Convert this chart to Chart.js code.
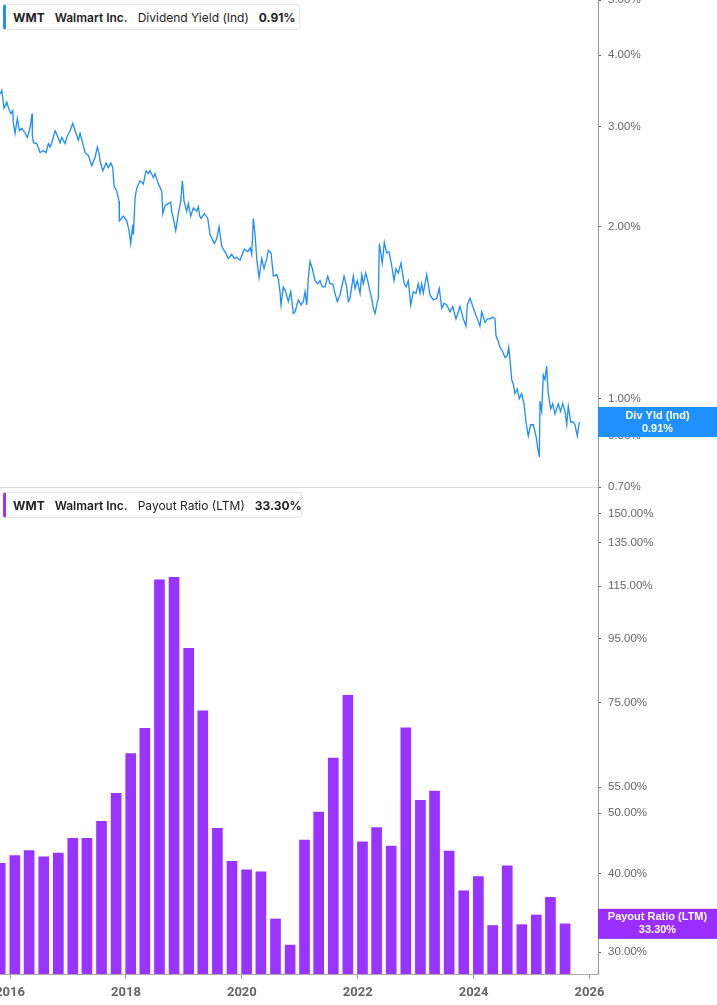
<!DOCTYPE html>
<html>
<head>
<meta charset="utf-8">
<script src="https://cdn.jsdelivr.net/npm/chart.js@4.4.1/dist/chart.umd.min.js"></script>
<style>
  html, body { margin: 0; padding: 0; background: #fff; }
  #wrap { position: relative; width: 717px; height: 1005px; overflow: hidden; background: #fff; }
  #topBox { position: absolute; left: 0; top: 0; width: 717px; height: 500px; }
  #botBox { position: absolute; left: 0; top: 488px; width: 717px; height: 517px; }
  .legend {
    position: absolute; left: 3px; width: 297px; height: 26px; box-sizing: border-box;
    border: 1px solid #e6e6e6; border-radius: 3px; background: #fff;
    display: flex; align-items: center; padding-left: 7px;
    font-family: Inter, "Noto Sans", sans-serif; font-size: 12px; color: #222; z-index: 5;
  }
  .legend span { margin-right: 10px; white-space: nowrap; }
  .legend .b { font-weight: 700; }
  .legend .m { font-weight: 600; }
</style>
</head>
<body>
<div id="wrap">
  <div id="topBox"><canvas id="yieldChart"></canvas></div>
  <div id="botBox"><canvas id="payoutChart"></canvas></div>
  <div class="legend" style="top:4px; border-left:3px solid #1e90ff;">
    <span class="b">WMT</span><span class="m">Walmart Inc.</span><span>Dividend Yield (Ind)</span><span class="b" id="yieldLast"></span>
  </div>
  <div class="legend" style="top:492px; width:299px; border-left:3px solid #9933ff;">
    <span class="b">WMT</span><span class="m">Walmart Inc.</span><span>Payout Ratio (LTM)</span><span class="b" id="payoutLast"></span>
  </div>
</div>
<script>
// 배당수익률 (연도 소수, %)
const divYears = [
  2015.83, 2015.857, 2015.874, 2015.896, 2015.943, 2015.971, 2016.012, 2016.047, 2016.057, 2016.086,
  2016.126, 2016.160, 2016.202, 2016.259, 2016.299, 2016.345, 2016.380, 2016.385, 2016.402, 2016.461,
  2016.518, 2016.575, 2016.621, 2016.661, 2016.690, 2016.720, 2016.777, 2016.833, 2016.863, 2016.892,
  2016.949, 2016.978, 2017.035, 2017.082, 2017.122, 2017.179, 2017.208, 2017.255, 2017.294, 2017.351,
  2017.410, 2017.467, 2017.506, 2017.536, 2017.553, 2017.600, 2017.657, 2017.696, 2017.738, 2017.772,
  2017.795, 2017.841, 2017.881, 2017.886, 2017.955, 2018.014, 2018.054, 2018.083, 2018.117, 2018.128,
  2018.157, 2018.186, 2018.243, 2018.300, 2018.347, 2018.387, 2018.416, 2018.473, 2018.502, 2018.559,
  2018.618, 2018.635, 2018.675, 2018.732, 2018.773, 2018.790, 2018.818, 2018.859, 2018.904, 2018.946,
  2018.973, 2019.003, 2019.049, 2019.077, 2019.118, 2019.163, 2019.222, 2019.249, 2019.274, 2019.296,
  2019.353, 2019.412, 2019.451, 2019.525, 2019.567, 2019.607, 2019.653, 2019.722, 2019.767, 2019.826,
  2019.871, 2019.912, 2019.969, 2020.043, 2020.102, 2020.142, 2020.171, 2020.198, 2020.228, 2020.257,
  2020.297, 2020.343, 2020.383, 2020.430, 2020.457, 2020.504, 2020.544, 2020.602, 2020.630, 2020.659,
  2020.676, 2020.716, 2020.758, 2020.802, 2020.844, 2020.889, 2020.918, 2020.975, 2021.022, 2021.061,
  2021.091, 2021.120, 2021.148, 2021.177, 2021.217, 2021.263, 2021.310, 2021.349, 2021.389, 2021.436,
  2021.482, 2021.522, 2021.569, 2021.608, 2021.648, 2021.695, 2021.764, 2021.810, 2021.838, 2021.867,
  2021.924, 2021.953, 2021.993, 2022.040, 2022.069, 2022.097, 2022.138, 2022.172, 2022.212, 2022.241,
  2022.269, 2022.299, 2022.328, 2022.356, 2022.373, 2022.402, 2022.424, 2022.459, 2022.500, 2022.540,
  2022.587, 2022.626, 2022.661, 2022.700, 2022.747, 2022.769, 2022.804, 2022.834, 2022.873, 2022.915,
  2022.959, 2023.006, 2023.046, 2023.075, 2023.104, 2023.132, 2023.191, 2023.248, 2023.305, 2023.363,
  2023.408, 2023.450, 2023.489, 2023.536, 2023.593, 2023.639, 2023.696, 2023.765, 2023.822, 2023.869,
  2023.891, 2023.938, 2024.007, 2024.064, 2024.110, 2024.140, 2024.197, 2024.236, 2024.283, 2024.330,
  2024.369, 2024.386, 2024.426, 2024.456, 2024.502, 2024.542, 2024.582, 2024.606, 2024.628, 2024.658,
  2024.685, 2024.714, 2024.754, 2024.789, 2024.830, 2024.870, 2024.904, 2024.944, 2024.985, 2025.030,
  2025.077, 2025.106, 2025.134, 2025.146, 2025.175, 2025.203, 2025.232, 2025.261, 2025.289, 2025.330,
  2025.365, 2025.405, 2025.462, 2025.500, 2025.538, 2025.578, 2025.607, 2025.634, 2025.676, 2025.720,
  2025.750, 2025.790, 2025.824
];
const divYield = [
  3.42, 3.47, 3.36, 3.23, 3.31, 3.24, 3.16, 3.20, 3.04, 2.92,
  3.10, 2.95, 2.98, 2.92, 2.87, 2.99, 3.16, 2.89, 2.81, 2.80,
  2.70, 2.72, 2.70, 2.80, 2.76, 2.81, 2.95, 2.86, 2.81, 2.87,
  2.80, 2.87, 2.95, 3.04, 2.95, 2.84, 2.92, 2.80, 2.70, 2.67,
  2.56, 2.65, 2.76, 2.69, 2.61, 2.51, 2.59, 2.54, 2.59, 2.54,
  2.36, 2.31, 2.22, 2.05, 2.09, 2.05, 1.97, 1.87, 2.02, 1.94,
  2.25, 2.34, 2.41, 2.38, 2.51, 2.48, 2.51, 2.44, 2.48, 2.38,
  2.31, 2.11, 2.18, 2.20, 2.21, 2.13, 2.07, 1.97, 2.11, 2.22,
  2.41, 2.22, 2.13, 2.20, 2.09, 2.16, 2.13, 2.17, 2.09, 2.07,
  2.11, 2.07, 1.94, 1.87, 1.91, 2.00, 1.85, 1.80, 1.76, 1.79,
  1.76, 1.77, 1.75, 1.83, 1.81, 1.84, 1.79, 2.07, 1.94, 1.76,
  1.63, 1.76, 1.69, 1.76, 1.82, 1.80, 1.64, 1.65, 1.62, 1.54,
  1.46, 1.57, 1.54, 1.48, 1.54, 1.41, 1.42, 1.49, 1.46, 1.48,
  1.54, 1.46, 1.63, 1.74, 1.69, 1.61, 1.59, 1.61, 1.57, 1.57,
  1.64, 1.59, 1.59, 1.53, 1.48, 1.52, 1.64, 1.57, 1.48, 1.50,
  1.64, 1.56, 1.61, 1.53, 1.65, 1.59, 1.66, 1.61, 1.54, 1.50,
  1.44, 1.41, 1.46, 1.50, 1.87, 1.79, 1.73, 1.88, 1.80, 1.81,
  1.71, 1.61, 1.69, 1.66, 1.73, 1.67, 1.59, 1.57, 1.61, 1.46,
  1.54, 1.53, 1.59, 1.53, 1.59, 1.53, 1.65, 1.52, 1.49, 1.50,
  1.56, 1.44, 1.47, 1.46, 1.42, 1.45, 1.38, 1.45, 1.38, 1.34,
  1.46, 1.50, 1.43, 1.38, 1.34, 1.42, 1.36, 1.38, 1.38, 1.39,
  1.38, 1.29, 1.26, 1.23, 1.21, 1.18, 1.19, 1.23, 1.17, 1.08,
  1.06, 1.02, 1.04, 1.00, 1.02, 0.98, 0.91, 0.86, 0.90, 0.90,
  0.86, 0.82, 0.79, 0.99, 0.95, 1.10, 1.08, 1.14, 1.02, 0.96,
  0.98, 0.94, 0.98, 0.95, 0.98, 0.95, 0.90, 0.97, 0.91, 0.91,
  0.90, 0.86, 0.91
];

// 배당성향 (분기말, %)
const payoutDates = [
  '2015-10-31',
  '2016-01-31', '2016-04-30', '2016-07-31', '2016-10-31',
  '2017-01-31', '2017-04-30', '2017-07-31', '2017-10-31',
  '2018-01-31', '2018-04-30', '2018-07-31', '2018-10-31',
  '2019-01-31', '2019-04-30', '2019-07-31', '2019-10-31',
  '2020-01-31', '2020-04-30', '2020-07-31', '2020-10-31',
  '2021-01-31', '2021-04-30', '2021-07-31', '2021-10-31',
  '2022-01-31', '2022-04-30', '2022-07-31', '2022-10-31',
  '2023-01-31', '2023-04-30', '2023-07-31', '2023-10-31',
  '2024-01-31', '2024-04-30', '2024-07-31', '2024-10-31',
  '2025-01-31', '2025-04-30', '2025-07-31'
];
const payoutRatio = [
  41.6,
  42.8, 43.6, 42.6, 43.2,
  45.6, 45.6, 48.5, 53.8,
  62.2, 68.3, 117.8, 118.9,
  91.6, 72.8, 47.3, 41.9,
  40.6, 40.3, 33.9, 30.8,
  45.3, 50.2, 61.2, 77.1,
  45.0, 47.4, 44.3, 68.4,
  52.4, 54.2, 43.5, 37.6,
  39.6, 33.1, 41.2, 33.2,
  34.4, 36.7, 33.3
];

// 축 눈금
const yearTicks = [2016, 2018, 2020, 2022, 2024, 2026];
const yieldTicks = [0.70, 0.86, 1.00, 2.00, 3.00, 4.00, 5.00];
const payoutTicks = [30, 40, 50, 55, 75, 95, 115, 135, 150];

// 날짜 문자열 -> 연도 소수
function toYear(s) {
  const d = new Date(s + 'T00:00:00Z');
  const start = Date.UTC(d.getUTCFullYear(), 0, 1);
  return d.getUTCFullYear() + (d - start) / (365 * 86400000);
}

const X_MIN = 2015.826, X_MAX = 2026.147;
const AXIS_FONT = { family: '"Liberation Sans", Arial, sans-serif', size: 11.5 };

document.getElementById('yieldLast').textContent = divYield[divYield.length - 1].toFixed(2) + '%';
document.getElementById('payoutLast').textContent = payoutRatio[payoutRatio.length - 1].toFixed(2) + '%';

// 마지막 값 태그
const lastTag = {
  id: 'lastTag',
  afterDraw(chart, args, opts) {
    const { ctx, chartArea } = chart;
    const pts = chart.data.datasets[0].data;
    const last = pts[pts.length - 1].y;
    const y = chart.scales.y.getPixelForValue(last);
    const x0 = chartArea.right;
    const w = chart.width - x0;
    ctx.save();
    ctx.fillStyle = opts.color;
    ctx.fillRect(x0, y - 15, w, 30);
    ctx.fillStyle = '#fff';
    ctx.font = 'bold 11px "Liberation Sans", Arial, sans-serif';
    ctx.textAlign = 'center';
    ctx.textBaseline = 'middle';
    ctx.fillText(opts.title, x0 + w / 2, y - 6.5);
    ctx.fillText(last.toFixed(2) + '%', x0 + w / 2, y + 6.5);
    ctx.restore();
  }
};

function yAxis(min, max, ticks) {
  return {
    type: 'logarithmic',
    position: 'right',
    min: min,
    max: max,
    // 라벨 여백 없이 플롯 영역을 위아래 끝까지
    afterFit: (s) => { s.width = 119; s.paddingTop = 0; s.paddingBottom = 0; },
    afterBuildTicks: (s) => { s.ticks = ticks.map(v => ({ value: v })); },
    border: { display: true, color: '#999', width: 1 },
    grid: { display: true, drawOnChartArea: false, tickLength: 3, color: '#666' },
    ticks: {
      autoSkip: false,
      color: '#666',
      font: AXIS_FONT,
      padding: 7,
      callback: (v) => Number(v).toFixed(2) + '%'
    }
  };
}

// 상단: 배당수익률
new Chart(document.getElementById('yieldChart').getContext('2d'), {
  type: 'line',
  data: {
    datasets: [{
      data: divYears.map((t, i) => ({ x: t, y: divYield[i] })),
      borderColor: '#1e8cff',
      borderWidth: 1.3,
      pointRadius: 0,
      tension: 0,
      fill: false
    }]
  },
  options: {
    responsive: true,
    maintainAspectRatio: false,
    animation: false,
    layout: { padding: { top: 0, bottom: 13, left: 0, right: 0 } },
    plugins: {
      legend: { display: false },
      tooltip: { enabled: false },
      lastTag: { color: '#1e90ff', title: 'Div Yld (Ind)' }
    },
    scales: {
      x: {
        type: 'linear',
        min: X_MIN,
        max: X_MAX,
        afterFit: (s) => { s.height = 0; s.paddingLeft = 0; s.paddingRight = 0; },
        border: { display: true, color: '#dcdcdc', width: 1 },
        grid: { display: false },
        ticks: { display: false }
      },
      y: yAxis(0.70, 5.0, yieldTicks)
    }
  },
  plugins: [lastTag]
});

// 하단: 배당성향
new Chart(document.getElementById('payoutChart').getContext('2d'), {
  type: 'bar',
  data: {
    datasets: [{
      data: payoutDates.map((d, i) => ({ x: toYear(d), y: payoutRatio[i] })),
      backgroundColor: '#9933ff',
      barThickness: 10
    }]
  },
  options: {
    responsive: true,
    maintainAspectRatio: false,
    animation: false,
    layout: { padding: 0 },
    plugins: {
      legend: { display: false },
      tooltip: { enabled: false },
      lastTag: { color: '#9a2eff', title: 'Payout Ratio (LTM)' }
    },
    scales: {
      x: {
        type: 'linear',
        min: X_MIN,
        max: X_MAX,
        offset: false,
        afterFit: (s) => { s.height = 31; s.paddingLeft = 0; s.paddingRight = 0; },
        afterBuildTicks: (s) => { s.ticks = yearTicks.map(v => ({ value: v })); },
        border: { display: true, color: '#aaa', width: 1 },
        grid: { display: true, offset: false, drawOnChartArea: false, tickLength: 5, color: '#999' },
        ticks: {
          autoSkip: false,
          maxRotation: 0,
          color: '#666',
          padding: 6,
          font: { family: 'Roboto, sans-serif', size: 13, weight: 'bold' },
          callback: (v) => String(v)
        }
      },
      y: yAxis(27.7, 165, payoutTicks)
    }
  },
  plugins: [lastTag]
});
</script>
</body>
</html>
